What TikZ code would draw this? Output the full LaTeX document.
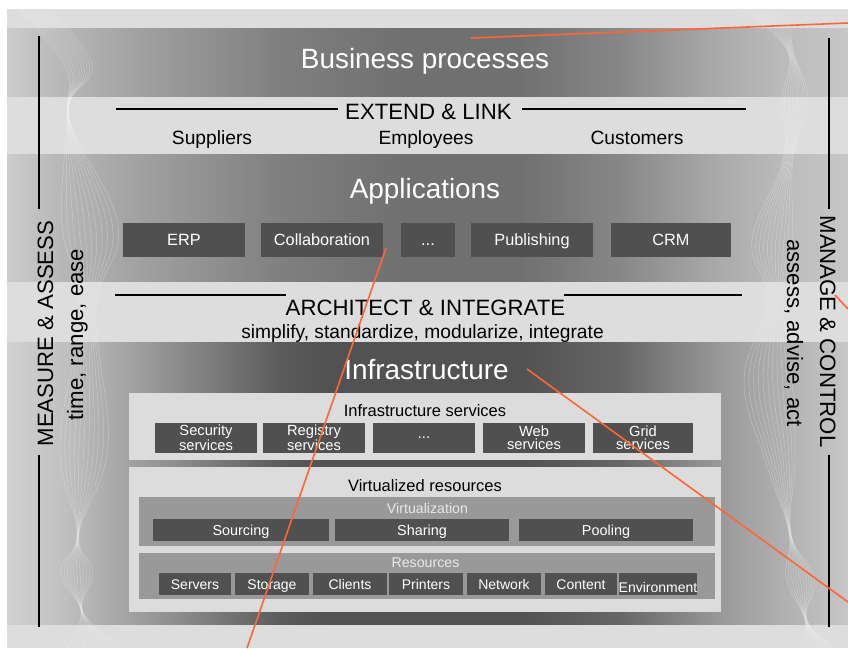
\documentclass[tikz,border=0pt]{standalone}
\usepackage{fontspec}
\setmainfont{Liberation Sans}
\definecolor{bgl}{HTML}{DDDDDD}
\definecolor{dboxc}{HTML}{505050}
\definecolor{lboxc}{HTML}{DCDCDC}
\definecolor{mboxc}{HTML}{999999}
\definecolor{mtext}{HTML}{E8E8E8}
\definecolor{orng}{HTML}{FF6633}
\definecolor{i0}{gray}{0.82}
\definecolor{i1}{gray}{0.76}
\definecolor{i2}{gray}{0.60}
\definecolor{i3}{gray}{0.36}
\definecolor{i4}{gray}{0.32}
\definecolor{i5}{gray}{0.40}
\definecolor{i6}{gray}{0.60}
\definecolor{i7}{gray}{0.70}
\definecolor{i8}{gray}{0.78}
\definecolor{a0}{gray}{0.80}
\definecolor{a1}{gray}{0.72}
\definecolor{a2}{gray}{0.62}
\definecolor{a3}{gray}{0.50}
\definecolor{a4}{gray}{0.44}
\definecolor{a5}{gray}{0.53}
\definecolor{a6}{gray}{0.67}
\definecolor{a7}{gray}{0.74}
\definecolor{a8}{gray}{0.78}
\pgfdeclarehorizontalshading{infshade}{100bp}{color(0bp)=(i0); color(25bp)=(i0); color(28.15bp)=(i1); color(33.5bp)=(i2); color(41.2bp)=(i3); color(44.2bp)=(i4); color(55.5bp)=(i4); color(61.4bp)=(i5); color(67.4bp)=(i6); color(71.55bp)=(i7); color(75bp)=(i8); color(100bp)=(i8)}
\pgfdeclarehorizontalshading{appshade}{100bp}{color(0bp)=(a0); color(25bp)=(a0); color(28.15bp)=(a1); color(33.5bp)=(a2); color(41.2bp)=(a3); color(48.4bp)=(a4); color(55.5bp)=(a4); color(61.4bp)=(a5); color(67.4bp)=(a6); color(71.55bp)=(a7); color(75bp)=(a8); color(100bp)=(a8)}
\newcommand{\sz}[2]{\fontsize{#1}{#2}\selectfont}
\begin{document}
\begin{tikzpicture}[x=1pt,y=-1pt,
  appbox/.style={fill=dboxc,text=white,inner sep=0pt,minimum height=34pt,font=\sz{16.3}{18},text height=11.7pt,text depth=0pt},
  svcbox/.style={fill=dboxc,text=white,inner sep=0pt,minimum width=102pt,minimum height=30pt,font=\sz{14.7}{13},align=center},
  vbox/.style={fill=dboxc,text=white,inner sep=0pt,minimum height=22pt,font=\sz{14.4}{16},text height=10.3pt,text depth=0pt},
  rbox/.style={fill=dboxc,text=white,inner sep=0pt,minimum height=22pt,minimum width=74pt,font=\sz{14}{16},text height=10pt,text depth=0pt},
  cont/.style={fill=lboxc,draw=none,inner sep=0pt,anchor=north west},
  midc/.style={fill=mboxc,draw=none,inner sep=0pt,anchor=north west},
  bigw/.style={text=white,font=\sz{27.9}{32},anchor=base,inner sep=0pt},
  head/.style={text=black,font=\sz{22.2}{26},anchor=base,inner sep=0pt},
  sub/.style={text=black,font=\sz{19.2}{22},anchor=base,inner sep=0pt},
  ctitle/.style={text=black,font=\sz{16.5}{19},anchor=base,inner sep=0pt},
  mtitle/.style={text=mtext,font=\sz{14.2}{16},anchor=base,inner sep=0pt},
  side/.style={text=black,font=\sz{22.2}{26},anchor=base,inner sep=0pt},
  rule/.style={black,line width=1.6pt},
  strand/.style={white,opacity=0.3,line width=0.45pt},
  orangeline/.style={orng,line width=1.6pt}
]
\useasboundingbox (0,0) rectangle (848,648);
% background and bands
\fill[bgl] (7,9) rectangle (848,648);
\shade[shading=appshade] (7,28) rectangle (848,96);
\shade[shading=appshade] (7,154) rectangle (848,281);
\shade[shading=infshade] (7,342) rectangle (848,624);
% wavy strands
\foreach \k in {-1,-0.8,-0.6,-0.4,-0.2,0,0.2,0.4,0.6,0.8,1}{
  \draw[strand] plot[smooth,tension=0.7] coordinates {({32+\k*16},9) ({78+\k*14},65) ({68+\k*1},117) ({90+\k*28},225) ({88+\k*8},310) ({84+\k*24},445) ({78+\k*1},533) ({77+\k*16},572) ({82+\k*1},612) ({95+\k*28},648)};
  \draw[strand] plot[smooth,tension=0.7] coordinates {({765+\k*25},9) ({790+\k*3},50) ({795+\k*13},100) ({788+\k*5},160) ({772+\k*20},240) ({775+\k*8},300) ({768+\k*24},380) ({780+\k*15},460) ({790+\k*1},533) ({800+\k*14},578) ({806+\k*1},620) ({818+\k*18},648)};
}
% titles of bands
\node[bigw] (biz) at (425,68.5) {Business processes};
\node[head] (extend) at (428.5,119) {EXTEND \& LINK};
\node[sub] (sup) at (212,144) {Suppliers};
\node[sub] (emp) at (426,144) {Employees};
\node[sub] (cus) at (637,144) {Customers};
\node[bigw] (apps) at (425,198) {Applications};
\node[head] (arch) at (425.5,315) {ARCHITECT \& INTEGRATE};
\node[sub] (simp) at (422.5,338) {simplify, standardize, modularize, integrate};
\node[bigw] (infra) at (426.5,379) {Infrastructure};
% application boxes
\node[appbox,minimum width=122pt] (erp) at (184,240) {ERP};
\node[appbox,minimum width=122pt] (collab) at (322,240) {Collaboration};
\node[appbox,minimum width=54pt] (appdots) at (428,240) {...};
\node[appbox,minimum width=122pt] (pub) at (532,240) {Publishing};
\node[appbox,minimum width=120pt] (crm) at (671,240) {CRM};
% infrastructure services
\node[cont,minimum width=592pt,minimum height=67pt] (infsvc) at (129,393) {};
\node[ctitle] (infsvct) at (425,416) {Infrastructure services};
\node[svcbox] (sec) at (206,438) {Security\\services};
\node[svcbox] (reg) at (314,438) {Registry\\services};
\node[svcbox] (svcdots) at (424,438) {...};
\node[svcbox] (web) at (534,438) {Web\\services};
\node[svcbox,minimum width=100pt] (grid) at (643,438) {Grid\\services};
% virtualized resources
\node[cont,minimum width=592pt,minimum height=145pt] (virtres) at (129,467) {};
\node[ctitle] (virtrest) at (425,491) {Virtualized resources};
\node[midc,minimum width=576pt,minimum height=49pt] (virt) at (139,497) {};
\node[mtitle] (virtt) at (427.5,513) {Virtualization};
\node[vbox,minimum width=176pt] (sourcing) at (241,530) {Sourcing};
\node[vbox,minimum width=174pt] (sharing) at (422,530) {Sharing};
\node[vbox,minimum width=174pt] (pooling) at (606,530) {Pooling};
\node[midc,minimum width=576pt,minimum height=46pt] (res) at (139,553) {};
\node[mtitle] (rest) at (425.5,567) {Resources};
\node[rbox,minimum width=72pt] (servers) at (195,584) {Servers};
\node[rbox] (storage) at (272,584) {Storage};
\node[rbox] (clients) at (350,584) {Clients};
\node[rbox] (printers) at (426,584) {Printers};
\node[rbox] (network) at (504,584) {Network};
\node[rbox,minimum width=72pt] (content) at (581,584) {Content};
\node[rbox,text height=16pt] (env) at (658,584) {Environment};
% side labels
\node[side,rotate=90] (measure) at (53,333.5) {MEASURE \& ASSESS};
\node[side,rotate=90] (tre) at (83,334.5) {time, range, ease};
\node[side,rotate=-90] (manage) at (820,331.5) {MANAGE \& CONTROL};
\node[side,rotate=-90] (aaa) at (787,333) {assess, advise, act};
% rules
\draw[rule] (39,36) -- (39,209);
\draw[rule] (39,455) -- (39,627);
\draw[rule] (829,38) -- (829,209);
\draw[rule] (829,455) -- (829,627);
\draw[rule] (116,109) -- (338,109);
\draw[rule] (522,109) -- (746,109);
\draw[rule] (115,295) -- (286,295);
\draw[rule] (564,295) -- (742,295);
% orange lines
\coordinate (o1a) at (471,38);
\coordinate (o1b) at (848,23);
\coordinate (o2a) at (386,248);
\coordinate (o2b) at (247,648);
\coordinate (o3a) at (527,369);
\coordinate (o3b) at (848,602);
\coordinate (o4a) at (835,295);
\coordinate (o4b) at (848,309);
\draw[orangeline] (o1a) -- (o1b);
\draw[orangeline] (o2a) -- (o2b);
\draw[orangeline] (o3a) -- (o3b);
\draw[orangeline] (o4a) -- (o4b);
\end{tikzpicture}
\end{document}
